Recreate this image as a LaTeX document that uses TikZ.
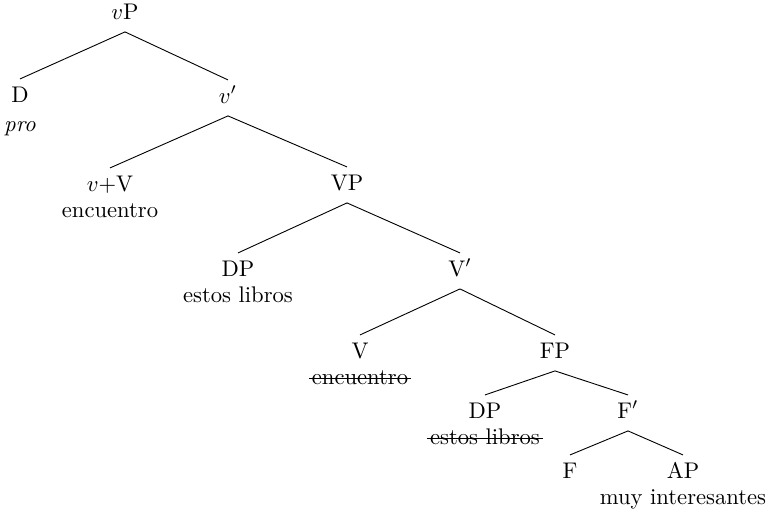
\documentclass[tikz,border=0pt]{standalone}
\usetikzlibrary{positioning}
\begin{document}
\begin{tikzpicture}[
  x=0.01553cm, y=-0.01553cm,
  cat/.style={anchor=base, inner sep=3pt, text height=7pt, text depth=2.5pt},
  word/.style={anchor=base, inner sep=1pt},
  branch/.style={line width=0.4pt},
  strike/.style={line width=0.6pt},
]
\useasboundingbox (0,0) rectangle (768,514);

% --- category labels ---
\node[cat] (vp)    at (125,19)  {$v$P};
\node[cat] (d)     at (20,102)  {D};
\node[cat] (vbar)  at (228,103) {$v'$};
\node[cat] (vv)    at (110,191) {$v$+V};
\node[cat] (VP)    at (347,190) {VP};
\node[cat] (dp1)   at (238,276) {DP};
\node[cat] (Vbar)  at (460,276) {V$'$};
\node[cat] (V)     at (360,358) {V};
\node[cat] (fp)    at (555,358) {FP};
\node[cat] (dp2)   at (485,418) {DP};
\node[cat] (fbar)  at (628,418) {F$'$};
\node[cat] (f)     at (570,478) {F};
\node[cat] (ap)    at (683,478) {AP};

% --- words under the categories ---
\node[word] (pro)  at ([yshift=-13pt]d.base)   {\textit{pro}};
\node[word] (enc1) at ([yshift=-11.5pt]vv.base)  {encuentro};
\node[word] (est1) at ([yshift=-11.5pt]dp1.base) {estos libros};
\node[word] (enc2) at ([yshift=-11.5pt]V.base)   {encuentro};
\node[word] (est2) at ([yshift=-11.5pt]dp2.base) {estos libros};
\node[word] (muy)  at ([yshift=-11.5pt]ap.base)  {muy interesantes};

% --- branches ---
\draw[branch] (vp.south)   -- (d.north);
\draw[branch] (vp.south)   -- (vbar.north);
\draw[branch] (vbar.south) -- (vv.north);
\draw[branch] (vbar.south) -- (VP.north);
\draw[branch] (VP.south)   -- (dp1.north);
\draw[branch] (VP.south)   -- (Vbar.north);
\draw[branch] (Vbar.south) -- (V.north);
\draw[branch] (Vbar.south) -- (fp.north);
\draw[branch] (fp.south)   -- (dp2.north);
\draw[branch] (fp.south)   -- (fbar.north);
\draw[branch] (fbar.south) -- (f.north);
\draw[branch] (fbar.south) -- (ap.north);

% --- struck-out copies ---
\draw[strike] ([yshift=2.4pt]enc2.base west) -- ([yshift=2.4pt]enc2.base east);
\draw[strike] ([yshift=2.4pt]est2.base west) -- ([yshift=2.4pt]est2.base east);

\end{tikzpicture}
\end{document}
